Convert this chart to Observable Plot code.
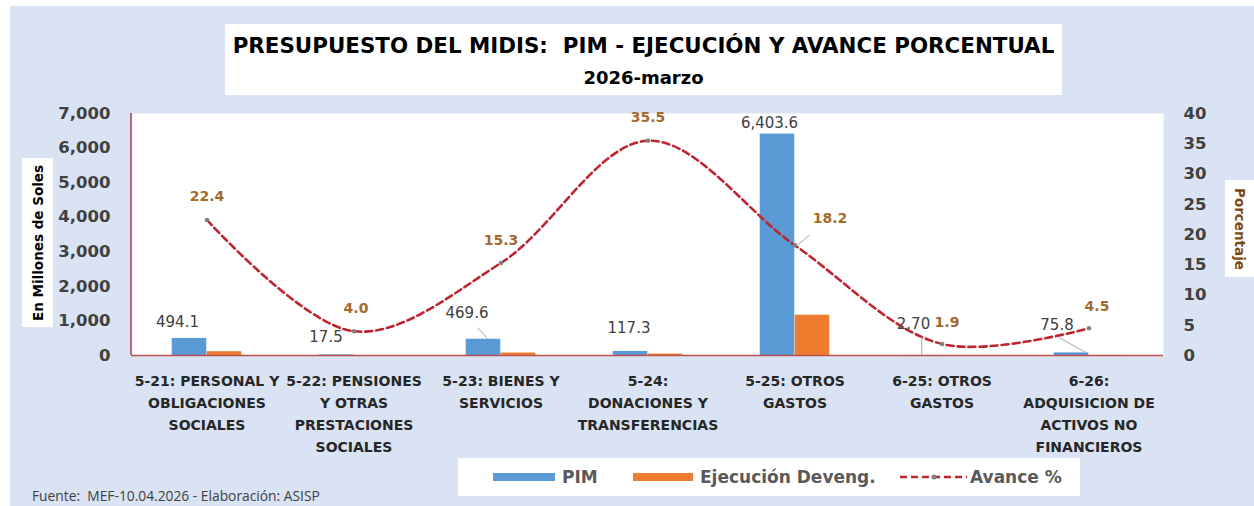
<!DOCTYPE html>
<html>
<head>
<meta charset="utf-8">
<script src="https://cdn.jsdelivr.net/npm/d3@7"></script>
<script src="https://cdn.jsdelivr.net/npm/@observablehq/plot@0.6"></script>
<style>
  html, body { margin: 0; padding: 0; background: #ffffff; }
  body { width: 1254px; height: 506px; position: relative; overflow: hidden; font-family: "DejaVu Sans", sans-serif; }
  #bg { position: absolute; left: 10px; top: 6px; width: 1244px; height: 500px; background: #dae3f3; }
  #chart { position: absolute; left: 0; top: 0; }
  .box { position: absolute; background: #ffffff; }
  #titlebox { left: 225px; top: 24px; width: 837px; height: 71px; }
  #title { position: absolute; left: 0; right: 0; top: 22px; text-align: center; font-weight: bold; font-size: 21.4px; color: #000; line-height: 0; white-space: pre; }
  #subtitle { position: absolute; left: 0; right: 0; top: 54px; text-align: center; font-weight: bold; font-size: 18px; color: #000; line-height: 0; }
  #ylab { left: 22px; top: 158px; width: 31px; height: 169px; }
  #ylab span, #y2lab span { position: absolute; left: 50%; top: 50%; white-space: nowrap; font-weight: bold; font-size: 13.5px; }
  #ylab span { transform: translate(-50%, -50%) rotate(-90deg); color: #000; }
  #y2lab { left: 1225px; top: 180px; width: 29px; height: 97px; }
  #y2lab span { transform: translate(-50%, -50%) rotate(90deg); color: #7a4a12; }
  #legend { left: 458px; top: 458px; width: 622px; height: 38px; }
  .sw { position: absolute; top: 15px; height: 8px; }
  .lt { position: absolute; top: 19px; line-height: 0; font-size: 17px; color: #595959; white-space: nowrap; font-weight: bold; }
  #footer { position: absolute; left: 32px; top: 496px; line-height: 0; font-family: "Open Sans", sans-serif; font-size: 13.8px; color: #404040; white-space: pre; }
</style>
</head>
<body>
<div id="bg"></div>
<div id="titlebox" class="box">
  <div id="title">PRESUPUESTO DEL MIDIS:  PIM - EJECUCIÓN Y AVANCE PORCENTUAL</div>
  <div id="subtitle">2026-marzo</div>
</div>
<div id="ylab" class="box"><span>En Millones de Soles</span></div>
<div id="y2lab" class="box"><span>Porcentaje</span></div>
<div id="chart"></div>
<div id="legend" class="box">
  <div class="sw" style="left:35px;width:62px;background:#5b9bd5"></div>
  <div class="lt" style="left:104px">PIM</div>
  <div class="sw" style="left:175px;width:60px;background:#ed7d31"></div>
  <div class="lt" style="left:242px">Ejecución Deveng.</div>
  <svg style="position:absolute;left:442px;top:14px" width="68" height="10">
    <line x1="0" y1="5" x2="67" y2="5" stroke="#bd2530" stroke-width="2.6" stroke-dasharray="7,4"></line>
    <circle cx="34" cy="5" r="2.5" fill="#808080"></circle>
  </svg>
  <div class="lt" style="left:512px">Avance %</div>
</div>
<div id="footer">Fuente:  MEF-10.04.2026 - Elaboración: ASISP</div>
<script>
// ---- data ----
const categories = ["5-21", "5-22", "5-23", "5-24", "5-25", "6-25", "6-26"];
const categoryLabels = [
  "5-21: PERSONAL Y\nOBLIGACIONES\nSOCIALES",
  "5-22: PENSIONES\nY OTRAS\nPRESTACIONES\nSOCIALES",
  "5-23: BIENES Y\nSERVICIOS",
  "5-24:\nDONACIONES Y\nTRANSFERENCIAS",
  "5-25: OTROS\nGASTOS",
  "6-25: OTROS\nGASTOS",
  "6-26:\nADQUISICION DE\nACTIVOS NO\nFINANCIEROS"
];
const pim = [494.1, 17.5, 469.6, 117.3, 6403.6, 2.70, 75.8];
const pimDecimals = [1, 1, 1, 1, 1, 2, 1];
const ejecucion = [110.7, 0.7, 71.8, 41.6, 1165.5, 0.05, 3.4];
const avance = [22.4, 4.0, 15.3, 35.5, 18.2, 1.9, 4.5];
const leftTicks = [0, 1000, 2000, 3000, 4000, 5000, 6000, 7000];
const rightTicks = [0, 5, 10, 15, 20, 25, 30, 35, 40];

// ---- label layout (pixel offsets, not data) ----
const pimLabelDx = [-12, -10.5, -16.5, -1.5, -8, -11, -14.5];
const pimLabelDy = [-16, -18, -26, -23, -11, -31, -28];
const pctLabelDx = [0, 2, 0, 0, 35, 5, 8];
const pctLabelDy = [-23.5, -23, -22, -23, -27, -21, -22];
// leader lines: [x1, y1, x2, y2] relative to anchor (bar top centre / line point)
const pimLeaders = [null, null, [-5.5, -11, 4.5, 0], null, null, [-2.5, -18, -2.5, 0], [-12.5, -15, 14.5, 0]];
const pctLeaders = [null, null, null, null, [15, -10, 3, 0], null, null];

const W = 1254, H = 506;
const mL = 131, mR = 91, mT = 113, mB = 151;
const yMax = 7000, pctMax = 40, k = yMax / pctMax;
const barW = 35;
const bw = (W - mL - mR) / categories.length;

const rows = categories.map((c, i) => ({
  cat: c, pim: pim[i], ejec: ejecucion[i], pct: avance[i], i
}));

const fmtComma = d3.format(",");
const pimText = (d) => d3.format(`,.${pimDecimals[d.i]}f`)(d.pim);

function overlay(index, scales, values, dimensions) {
  const x0 = (c) => scales.x(c);
  const g = d3.create("svg:g");
  g.append("line")
    .attr("x1", mL).attr("x2", mL)
    .attr("y1", mT).attr("y2", H - mB)
    .attr("stroke", "#a5375a").attr("stroke-width", 1.5);
  const lg = g.append("g").attr("stroke", "#a6a6a6").attr("stroke-width", 1).attr("fill", "none");
  rows.forEach((d) => {
    const L = pimLeaders[d.i];
    if (L) {
      const ax = x0(d.cat) + bw / 2 - barW / 2, ay = scales.y(d.pim);
      lg.append("line").attr("x1", ax + L[0]).attr("y1", ay + L[1]).attr("x2", ax + L[2]).attr("y2", ay + L[3]);
    }
    const P = pctLeaders[d.i];
    if (P) {
      const ax = x0(d.cat) + bw / 2, ay = scales.y(d.pct * k);
      lg.append("line").attr("x1", ax + P[0]).attr("y1", ay + P[1]).attr("x2", ax + P[2]).attr("y2", ay + P[3]);
    }
  });
  return g.node();
}

const pimLabelMarks = rows.map((d) => Plot.text([d], {
  x: "cat", y: "pim", text: pimText,
  dx: pimLabelDx[d.i] - barW / 2, dy: pimLabelDy[d.i],
  fontSize: 15, fill: "#404040"
}));
const pctLabelMarks = rows.map((d) => Plot.text([d], {
  x: "cat", y: (r) => r.pct * k, text: (r) => d3.format(".1f")(r.pct),
  dx: pctLabelDx[d.i], dy: pctLabelDy[d.i],
  fontSize: 14, fontWeight: "bold", fill: "#a5692c"
}));

const chart = Plot.plot({
  width: W, height: H,
  marginLeft: mL, marginRight: mR, marginTop: mT, marginBottom: mB,
  style: { background: "transparent", fontFamily: "DejaVu Sans", overflow: "visible" },
  x: { domain: categories, padding: 0, axis: null },
  y: { domain: [0, yMax], axis: null },
  marks: [
    Plot.frame({ fill: "#ffffff", stroke: null }),
    Plot.barY(rows, { x: "cat", y: "pim", fill: "#5b9bd5", insetLeft: bw / 2 - barW, insetRight: bw / 2 }),
    Plot.barY(rows, { x: "cat", y: "ejec", fill: "#ed7d31", insetLeft: bw / 2, insetRight: bw / 2 - barW }),
    Plot.ruleY([0], { stroke: "#c0504d", strokeWidth: 1.5 }),
    Plot.line(rows, { x: "cat", y: (d) => d.pct * k, curve: "catmull-rom", stroke: "#bd2530", strokeWidth: 2.6, strokeDasharray: "7,4" }),
    Plot.dot(rows, { x: "cat", y: (d) => d.pct * k, r: 2.3, fill: "#808080", stroke: null }),
    overlay,
    ...pimLabelMarks,
    ...pctLabelMarks,
    Plot.text(rows, {
      x: "cat", text: (d) => categoryLabels[d.i], frameAnchor: "bottom", lineAnchor: "top",
      dy: 15, lineHeight: 1.57, fontSize: 14, fontWeight: "bold", fill: "#262626"
    }),
    Plot.axisY(leftTicks, { anchor: "left", tickSize: 0, tickPadding: 21, tickFormat: fmtComma, fontSize: 16.5, fontWeight: "bold", fill: "#404040", label: null }),
    Plot.axisY(rightTicks.map((v) => v * k), { anchor: "right", tickSize: 0, tickPadding: 20, tickFormat: (v) => String(Math.round(v / k)), fontSize: 16.5, fontWeight: "bold", fill: "#404040", label: null })
  ]
});

document.getElementById("chart").appendChild(chart);
</script>
</body>
</html>
